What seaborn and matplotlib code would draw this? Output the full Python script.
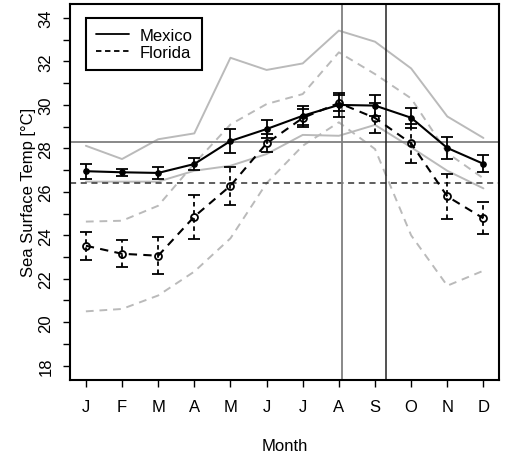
import numpy as np
import pandas as pd
import matplotlib
matplotlib.use('Agg')
import matplotlib.pyplot as plt
from matplotlib.lines import Line2D
import seaborn as sns

# monthly sea surface temperature
months = np.arange(1, 13)
month_labels = ['J', 'F', 'M', 'A', 'M', 'J', 'J', 'A', 'S', 'O', 'N', 'D']

mexico_mean = [26.95, 26.90, 26.87, 27.28, 28.34, 28.89, 29.50, 30.00, 29.97, 29.41, 28.02, 27.29]
mexico_err = [0.35, 0.16, 0.27, 0.26, 0.54, 0.43, 0.43, 0.57, 0.49, 0.46, 0.50, 0.39]
mexico_max = [28.12, 27.51, 28.42, 28.69, 32.17, 31.61, 31.91, 33.42, 32.91, 31.68, 29.47, 28.48]
mexico_min = [26.47, 26.47, 26.47, 26.97, 27.20, 27.74, 28.62, 28.58, 29.08, 28.05, 26.97, 26.16]

florida_mean = [23.52, 23.15, 23.06, 24.86, 26.28, 28.23, 29.40, 30.09, 29.40, 28.23, 25.79, 24.78]
florida_err = [0.64, 0.62, 0.85, 1.01, 0.87, 0.41, 0.40, 0.37, 0.70, 0.90, 1.02, 0.74]
florida_max = [24.63, 24.67, 25.36, 27.30, 29.10, 30.04, 30.50, 32.42, 31.42, 30.30, 27.79, 26.62]
florida_min = [20.50, 20.61, 21.23, 22.33, 23.86, 26.40, 28.12, 29.20, 27.97, 24.00, 21.68, 22.37]

mexico_ref = 28.31
florida_ref = 26.39
season_lines = [8.10, 9.30]

sns.set_style('ticks')
plt.rcParams['font.family'] = ['Liberation Sans', 'DejaVu Sans']
plt.rcParams['text.color'] = 'black'
plt.rcParams['axes.labelcolor'] = 'black'

fig = plt.figure(figsize=(5.06, 4.56), dpi=100)
ax = fig.add_axes([0.1383, 0.1654, 0.8485, 0.8234])

gray = '#bababa'
dash = (0, (4, 3))

# range envelopes
sns.lineplot(x=months, y=mexico_max, ax=ax, color=gray, linewidth=1.4)
sns.lineplot(x=months, y=mexico_min, ax=ax, color=gray, linewidth=1.4)
sns.lineplot(x=months, y=florida_max, ax=ax, color=gray, linewidth=1.4, linestyle=dash)
sns.lineplot(x=months, y=florida_min, ax=ax, color=gray, linewidth=1.4, linestyle=dash)

# reference lines
ax.axhline(mexico_ref, color='#7f7f7f', linewidth=1.3)
ax.axhline(florida_ref, color='#333333', linewidth=1.1, linestyle=dash)
ax.axvline(season_lines[0], color='#7f7f7f', linewidth=1.3)
ax.axvline(season_lines[1], color='#222222', linewidth=1.1)

# error bars
eb = ax.errorbar(months, mexico_mean, yerr=mexico_err, fmt='none', ecolor='black',
                 elinewidth=1.3, capsize=4, capthick=1.3)
eb = ax.errorbar(months, florida_mean, yerr=florida_err, fmt='none', ecolor='black',
                 elinewidth=1.3, capsize=4, capthick=1.3)
eb.lines[2][0].set_linestyle((0, (2.5, 2)))

# mean lines
sns.lineplot(x=months, y=mexico_mean, ax=ax, color='black', linewidth=1.5,
             marker='o', markersize=3.8, markerfacecolor='black',
             markeredgecolor='black', markeredgewidth=1)
sns.lineplot(x=months, y=florida_mean, ax=ax, color='black', linewidth=1.5,
             linestyle=dash, marker='o', markersize=5, markerfacecolor='none',
             markeredgecolor='black', markeredgewidth=1.3)

ax.set_xlim(0.56, 12.44)
ax.set_ylim(17.36, 34.64)
ax.set_xticks(months)
ax.set_xticklabels(month_labels)
yt = np.arange(18, 35)
ax.set_yticks(yt)
ax.set_yticklabels([str(v) if v % 2 == 0 else '' for v in yt], rotation=90, va='center')
ax.tick_params(axis='both', direction='out', length=5, width=1, labelsize=12, colors='black')
ax.tick_params(axis='x', pad=9)
ax.tick_params(axis='y', pad=7)
for s in ax.spines.values():
    s.set_visible(True)
    s.set_linewidth(1.5)
    s.set_color('black')

ax.set_xlabel('Month', fontsize=12, labelpad=17)
ax.set_ylabel('Sea Surface Temp [°C]', fontsize=12, labelpad=2)

handles = [Line2D([], [], color='black', linewidth=1.3),
           Line2D([], [], color='black', linewidth=1.3, linestyle=(0, (3, 2)))]
leg = ax.legend(handles, ['Mexico', 'Florida'], loc='upper left',
                bbox_to_anchor=(0.0373, 0.963), borderaxespad=0, fontsize=12,
                fancybox=False, framealpha=1, edgecolor='black', handlelength=2.0,
                handletextpad=0.6, borderpad=0.6, labelspacing=0.1)
leg.get_frame().set_linewidth(1.5)

fig.savefig('out.png', dpi=100)
